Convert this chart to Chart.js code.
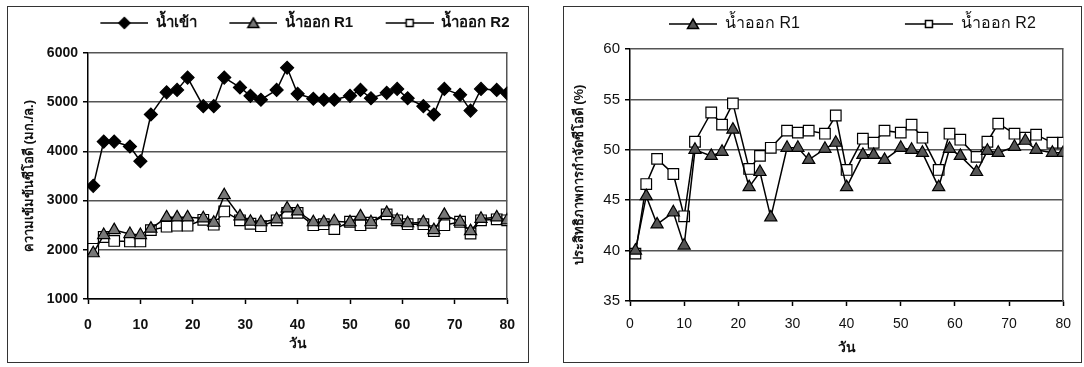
<!DOCTYPE html>
<html>
<head>
<meta charset="utf-8">
<script src="https://cdn.jsdelivr.net/npm/chart.js@4.4.0/dist/chart.umd.min.js"></script>
<style>
  body { margin: 0; background: #fff; width: 1084px; height: 367px; overflow: hidden; position: relative; }
  .box { position: absolute; border: 1px solid #333; background: #fff; }
  #b1 { left: 7px; top: 6px; width: 520px; height: 355px; }
  #b2 { left: 563px; top: 6px; width: 517px; height: 355px; }
  canvas { display: block; }
</style>
</head>
<body>
<div class="box" id="b1"><canvas id="chartCod" width="520" height="355"></canvas></div>
<div class="box" id="b2"><canvas id="chartEff" width="517" height="355"></canvas></div>
<script>
// sampling days (วัน)
const days = [1, 3, 5, 8, 10, 12, 15, 17, 19, 22, 24, 26, 29, 31, 33, 36, 38, 40, 43, 45, 47, 50, 52, 54, 57, 59, 61, 64, 66, 68, 71, 73, 75, 78, 80]

// COD concentration (mg/L)
const codIn = [3300, 4200, 4200, 4100, 3800, 4750, 5200, 5250, 5500, 4920, 4920, 5500, 5300, 5130, 5050, 5250, 5700, 5170, 5070, 5050, 5050, 5130, 5250, 5080, 5190, 5270, 5080, 4920, 4750, 5270, 5150, 4830, 5270, 5250, 5180]
const codR1 = [1930, 2300, 2400, 2320, 2300, 2430, 2660, 2660, 2660, 2640, 2550, 3110, 2680, 2570, 2560, 2620, 2840, 2780, 2560, 2560, 2580, 2560, 2680, 2560, 2750, 2600, 2540, 2560, 2400, 2710, 2570, 2380, 2630, 2660, 2600]
const codR2 = [2020, 2260, 2180, 2170, 2170, 2400, 2470, 2490, 2490, 2610, 2510, 2780, 2600, 2530, 2480, 2600, 2750, 2750, 2500, 2520, 2420, 2570, 2500, 2550, 2720, 2600, 2520, 2520, 2380, 2500, 2570, 2330, 2600, 2620, 2600]

// COD removal efficiency (%)
const effR1 = [40.0, 45.4, 42.6, 43.8, 40.5, 50.0, 49.4, 49.8, 52.0, 46.3, 47.8, 43.3, 50.2, 50.2, 49.0, 50.1, 50.7, 46.3, 49.5, 49.5, 49.0, 50.2, 50.0, 49.7, 46.3, 50.1, 49.4, 47.8, 49.9, 49.7, 50.3, 50.9, 50.0, 49.7, 49.7]
const effR2 = [39.7, 46.6, 49.1, 47.6, 43.4, 50.8, 53.7, 52.5, 54.6, 48.1, 49.4, 50.2, 51.9, 51.7, 51.9, 51.6, 53.4, 48.0, 51.1, 50.7, 51.9, 51.7, 52.5, 51.2, 48.0, 51.6, 51.0, 49.3, 50.8, 52.6, 51.6, 51.2, 51.5, 50.7, 50.7]

const labelIn = 'น้ำเข้า'
const labelR1 = 'น้ำออก R1'
const labelR2 = 'น้ำออก R2'

Chart.defaults.font.family = '"Liberation Sans", Arial, "DejaVu Sans", "Noto Sans", sans-serif'
Chart.defaults.color = '#111'

function toPoints(values) {
  return days.map(function(d, i) { return {x: d, y: values[i]} })
}

// "line with marker" picture for the legend, like Excel; blank space on the left spaces the items
function legendIcon(shape, fill, blank) {
  let c = document.createElement('canvas')
  c.width = 48 + blank
  c.height = 14
  let g = c.getContext('2d')
  g.translate(blank, 0)
  g.strokeStyle = '#000'
  g.lineWidth = 1.5
  g.beginPath(); g.moveTo(0, 7); g.lineTo(48, 7); g.stroke()
  g.fillStyle = fill
  g.beginPath()
  if (shape == 'diamond') {
    g.moveTo(24, 1.5); g.lineTo(29.5, 7); g.lineTo(24, 12.5); g.lineTo(18.5, 7)
  } else if (shape == 'triangle') {
    g.moveTo(24, 2); g.lineTo(29.5, 11.5); g.lineTo(18.5, 11.5)
  } else {
    g.rect(20.5, 3.5, 7, 7)
  }
  g.closePath(); g.fill(); g.stroke()
  return c
}

function legendLabels(chart) {
  let items = Chart.defaults.plugins.legend.labels.generateLabels(chart)
  items.forEach(function(it, i) { it.pointStyle = chart.data.datasets[i].icon })
  return items
}

// keep the legend band at a fixed height so the plot starts where it should
const legendHeight = {
  id: 'legendHeight',
  beforeLayout: function(chart, args, opts) {
    let lg = chart.legend
    if (lg && !lg._fixed) {
      let fit = lg.fit
      lg.fit = function() { fit.call(this); this.height = opts.height }
      lg._fixed = true
    }
  }
}

function series(label, values, style, fill, radius, icon) {
  return {
    label: label,
    data: toPoints(values),
    borderColor: '#000',
    borderWidth: 1.5,
    pointStyle: style,
    pointRadius: radius,
    pointBackgroundColor: fill,
    pointBorderColor: '#000',
    pointBorderWidth: 1.2,
    tension: 0,
    icon: icon
  }
}

function options(cfg) {
  return {
    responsive: false,
    animation: false,
    layout: {padding: {left: 0, right: cfg.padRight, top: 0, bottom: 0}},
    plugins: {
      legendHeight: {height: cfg.legendHeight},
      legend: {
        fullSize: true,
        align: cfg.legendAlign,
        labels: {
          usePointStyle: true,
          pointStyleWidth: 48 + cfg.blank,
          padding: cfg.legendPad,
          color: '#111',
          font: {size: cfg.legendFont, weight: cfg.weight},
          generateLabels: legendLabels
        }
      },
      tooltip: {enabled: false}
    },
    scales: {
      x: {
        type: 'linear', min: 0, max: 80,
        ticks: {stepSize: 10, padding: cfg.xTickPad, font: {size: 14, weight: cfg.weight}},
        grid: {drawOnChartArea: false, tickLength: 5, tickColor: '#000', tickWidth: 1.5},
        border: {color: '#000', width: 1.5},
        title: {display: true, text: 'วัน', font: {size: 14, weight: 'bold'}, padding: {top: 2, bottom: cfg.xTitleBottom}},
        afterFit: function(s) { s.height = cfg.xHeight }
      },
      y: {
        min: cfg.min, max: cfg.max,
        ticks: {
          stepSize: cfg.step, padding: 5, font: {size: cfg.yFont, weight: cfg.weight},
          callback: function(v) { return String(v) }
        },
        grid: {color: '#555', lineWidth: 1.5, tickLength: 5, tickColor: '#000', tickWidth: 1.5},
        border: {color: '#000', width: 1.5},
        title: {display: true, text: cfg.yTitle, font: {size: 13, weight: 'bold'}, padding: cfg.yTitlePad},
        afterFit: function(s) { s.width = cfg.yWidth }
      },
      y2: {
        position: 'right', min: cfg.min, max: cfg.max,
        ticks: {display: false},
        grid: {drawOnChartArea: false, drawTicks: false},
        border: {color: '#555', width: 1.5},
        afterFit: function(s) { s.width = 0 }
      }
    }
  }
}

new Chart(document.getElementById('chartCod').getContext('2d'), {
  type: 'line',
  data: {
    datasets: [
      series(labelIn, codIn, 'rectRot', '#000', 6.5, legendIcon('diamond', '#000', 24)),
      series(labelR1, codR1, 'triangle', '#777', 7, legendIcon('triangle', '#777', 24)),
      series(labelR2, codR2, 'rect', '#fff', 7.5, legendIcon('square', '#fff', 24))
    ]
  },
  options: options({
    padRight: 10, legendHeight: 46, legendAlign: 'end', blank: 24, legendPad: 8.5, legendFont: 15,
    weight: 'bold', xTickPad: 13, xHeight: 63, xTitleBottom: 9,
    min: 1000, max: 6000, step: 1000, yFont: 14,
    yTitle: 'ความเข้มข้นซีโอดี (มก./ล.)', yTitlePad: 14, yWidth: 80
  }),
  plugins: [legendHeight]
});

new Chart(document.getElementById('chartEff').getContext('2d'), {
  type: 'line',
  data: {
    datasets: [
      series(labelR1, effR1, 'triangle', '#555', 7, legendIcon('triangle', '#555', 96)),
      series(labelR2, effR2, 'rect', '#fff', 7.5, legendIcon('square', '#fff', 96))
    ]
  },
  options: options({
    padRight: 9, legendHeight: 42, legendAlign: 'start', blank: 96, legendPad: 9, legendFont: 16,
    weight: 'normal', xTickPad: 10, xHeight: 61, xTitleBottom: 5,
    min: 35, max: 60, step: 5, yFont: 15,
    yTitle: 'ประสิทธิภาพการกำจัดซีโอดี (%)', yTitlePad: 8, yWidth: 66
  }),
  plugins: [legendHeight]
});
</script>
</body>
</html>
